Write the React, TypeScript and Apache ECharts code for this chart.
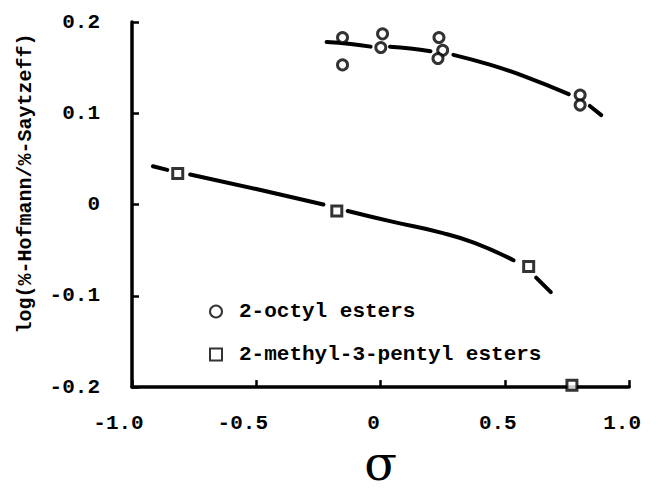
import React, { useEffect, useRef } from "react";
import * as echarts from "echarts";

// ---- data ----
const xTicks = [-1.0, -0.5, 0, 0.5, 1.0];
const yTicks = [-0.2, -0.1, 0, 0.1, 0.2];

// 2-octyl esters (circles)
const octylSigma = [-0.153, -0.153, 0.008, 0.001, 0.235, 0.25, 0.231, 0.803, 0.803];
const octylLog = [0.183, 0.153, 0.187, 0.172, 0.183, 0.169, 0.16, 0.12, 0.109];

// 2-methyl-3-pentyl esters (squares)
const pentylSigma = [-0.816, -0.176, 0.596, 0.77];
const pentylLog = [0.034, -0.007, -0.068, -0.198];

// hand-drawn fitted curves, split where the pen was lifted around the markers
const octylCurveA = [[-0.217, 0.178], [-0.12, 0.176], [-0.04, 0.173]];
const octylCurveB = [[0.038, 0.173], [0.12, 0.171], [0.201, 0.168]];
const octylCurveC = [[0.293, 0.164], [0.443, 0.153], [0.574, 0.141], [0.757, 0.121]];
const octylCurveD = [[0.842, 0.108], [0.888, 0.098]];

const pentylCurveA = [[-0.916, 0.042], [-0.858, 0.038]];
const pentylCurveB = [[-0.766, 0.033], [-0.5, 0.017], [-0.23, 0.0]];
const pentylCurveC = [[-0.132, -0.007], [0.051, -0.019], [0.247, -0.031], [0.378, -0.042], [0.535, -0.061]];
const pentylCurveD = [[0.626, -0.08], [0.685, -0.096]];

const octylName = "2-octyl esters";
const pentylName = "2-methyl-3-pentyl esters";

const MONO = "'Liberation Mono', 'Courier New', monospace";

export default function App() {
  const ref = useRef<HTMLDivElement>(null);

  useEffect(() => {
    document.body.style.margin = "0";
    const chart = echarts.init(ref.current as HTMLDivElement, null, { renderer: "svg" });

    const curve = (data: number[][]) => ({
      type: "line",
      data,
      smooth: true,
      symbol: "none",
      silent: true,
      lineStyle: { color: "#000", width: 4, cap: "round" },
      z: 2,
    });

    const richBase = { fontFamily: MONO, fontSize: 21, fontWeight: "bold", color: "#000", lineHeight: 21 };
    const markerStyle = { color: "#fff", borderColor: "#000", borderWidth: 3 };

    chart.setOption({
      animation: false,
      backgroundColor: "#fff",
      grid: { left: 132, right: 16, top: 22, bottom: 90 },
      legend: {
        data: [octylName, pentylName],
        orient: "vertical",
        left: 204,
        top: 296,
        itemWidth: 12,
        itemHeight: 12,
        itemGap: 22,
        textStyle: {
          fontFamily: MONO,
          fontSize: 21,
          fontWeight: "bold",
          color: "#000",
          padding: [0, 0, 0, 12],
        },
        selectedMode: false,
      },
      xAxis: {
        type: "value",
        min: xTicks[0],
        max: xTicks[xTicks.length - 1],
        interval: 0.5,
        name: "σ",
        nameLocation: "middle",
        nameGap: 46,
        nameTextStyle: { fontFamily: "'DejaVu Serif', serif", fontSize: 48, color: "#000" },
        axisLine: { onZero: false, lineStyle: { color: "#000", width: 3.5 } },
        axisTick: { inside: true, length: 7, lineStyle: { color: "#000", width: 2.5 } },
        splitLine: { show: false },
        axisLabel: {
          margin: 26,
          formatter: (v: number) => {
            const s = v === 0 ? "0" : v.toFixed(1);
            return v < 0 ? `{n|${s}}` : `{p|${s}}`;
          },
          rich: {
            n: { ...richBase, padding: [0, 27, 0, 0] },
            p: { ...richBase, padding: [0, 14, 0, 0] },
          },
        },
      },
      yAxis: {
        type: "value",
        min: yTicks[0],
        max: yTicks[yTicks.length - 1],
        interval: 0.1,
        name: "log(%-Hofmann/%-Saytzeff)",
        nameLocation: "middle",
        nameGap: 97,
        nameRotate: 90,
        nameTextStyle: {
          fontFamily: MONO,
          fontSize: 20,
          fontWeight: "bold",
          color: "#000",
          padding: [0, 0, 0, 42],
        },
        axisLine: { onZero: false, lineStyle: { color: "#000", width: 3.5 } },
        axisTick: { inside: true, length: 7, lineStyle: { color: "#000", width: 2.5 } },
        splitLine: { show: false },
        axisLabel: {
          margin: 32,
          fontFamily: MONO,
          fontSize: 21,
          fontWeight: "bold",
          color: "#000",
          formatter: (v: number) => (Math.abs(v) < 1e-9 ? "0" : String(Math.round(v * 10) / 10)),
        },
      },
      series: [
        curve(octylCurveA),
        curve(octylCurveB),
        curve(octylCurveC),
        curve(octylCurveD),
        curve(pentylCurveA),
        curve(pentylCurveB),
        curve(pentylCurveC),
        curve(pentylCurveD),
        {
          name: octylName,
          type: "scatter",
          symbol: "circle",
          symbolSize: 10,
          data: octylSigma.map((x, i) => [x, octylLog[i]]),
          itemStyle: markerStyle,
          z: 3,
        },
        {
          name: pentylName,
          type: "scatter",
          symbol: "rect",
          symbolSize: 10,
          data: pentylSigma.map((x, i) => [x, pentylLog[i]]),
          itemStyle: markerStyle,
          z: 3,
        },
      ],
    });

    return () => chart.dispose();
  }, []);

  return <div ref={ref} style={{ width: 658, height: 492 }} />;
}
